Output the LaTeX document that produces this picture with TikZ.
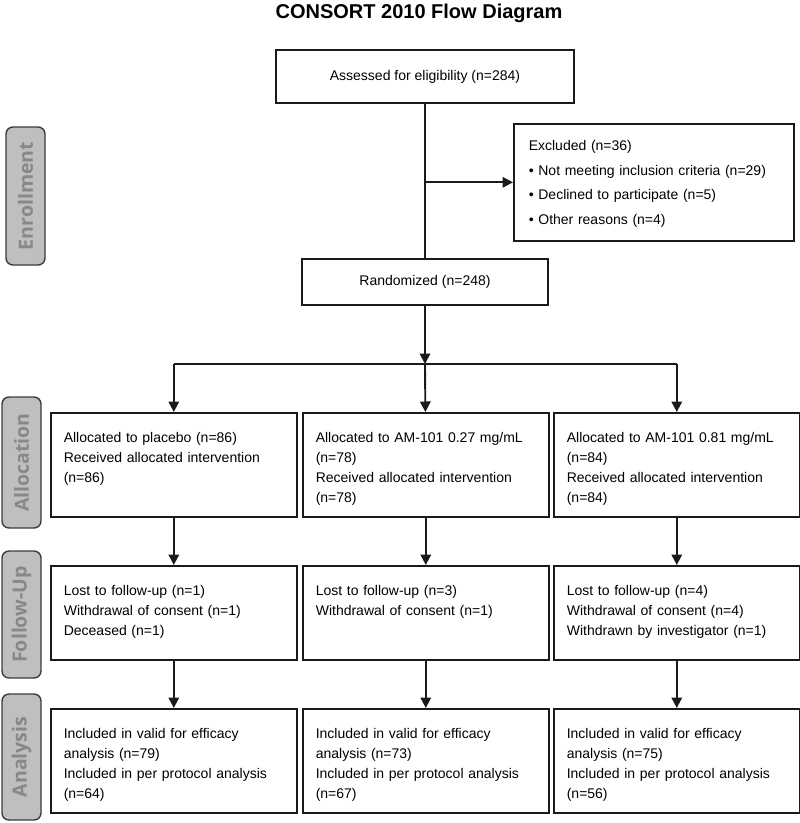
\documentclass[tikz,border=0pt]{standalone}
\usepackage{fontspec}
\setmainfont{Liberation Sans}
\newfontfamily\tabfont{Open Sans}
\usetikzlibrary{arrows.meta}

\definecolor{boxline}{HTML}{1A1A1A}
\definecolor{tabfill}{HTML}{BFBFBF}
\definecolor{tabtext}{HTML}{888888}

\tikzset{
  every node/.style={font=\fontsize{14}{19.8}\selectfont},
  box/.style={draw=boxline, line width=1.6pt},
  flowbox/.style={box, anchor=north west, text width=220pt, inner xsep=13pt,
    inner ysep=0pt, align=left, text height=30pt},
  stage/.style={draw=boxline!85, fill=tabfill, line width=1.4pt, rounded corners=7pt,
    rotate=90, minimum height=39pt, inner sep=0pt, text=tabtext,
    font=\tabfont\bfseries\fontsize{19.5}{19.5}\selectfont},
  link/.style={line width=1.9pt, draw=boxline},
  arrowline/.style={link, -{Triangle[length=10.5pt,width=10.5pt]}},
}

\begin{document}
\begin{tikzpicture}[x=1pt,y=-1pt]
  \useasboundingbox (0,0) rectangle (800,823);

  \node[anchor=base, font=\bfseries\fontsize{20}{24}\selectfont] (title) at (419,18.5) {CONSORT 2010 Flow Diagram};

  % stages
  \node[stage, minimum width=138pt] (enroll) at (25.5,196) {Enrollment};
  \node[stage, minimum width=131pt] (alloc) at (21.5,462.5) {Allocation};
  \node[stage, minimum width=127pt] (follow) at (21.5,614.5) {Follow-Up};
  \node[stage, minimum width=126pt] (analysis) at (21.5,757) {Analysis};

  % enrollment
  \node[box, minimum width=298pt, minimum height=53pt] (assess) at (425,76.5) {Assessed for eligibility (n=284)};
  \node[box, minimum width=246pt, minimum height=46pt] (random) at (425,282) {Randomized (n=248)};
  \node[flowbox, text width=250pt, inner xsep=15pt, text height=27pt, text depth=90pt,
    font=\fontsize{14}{24.5}\selectfont] (excl) at (513,123)
    {Excluded (n=36)\\\textbullet~Not meeting inclusion criteria (n=29)\\\textbullet~Declined to participate (n=5)\\\textbullet~Other reasons (n=4)};

  % allocation
  \node[flowbox, text depth=74pt] (alloc1) at (50,412) {Allocated to placebo (n=86)\\Received allocated intervention\\(n=86)};
  \node[flowbox, text depth=74pt] (alloc2) at (302,412) {Allocated to AM-101 0.27 mg/mL\\(n=78)\\Received allocated intervention\\(n=78)};
  \node[flowbox, text depth=74pt] (alloc3) at (553,412) {Allocated to AM-101 0.81 mg/mL\\(n=84)\\Received allocated intervention\\(n=84)};

  % follow-up
  \node[flowbox, text depth=64pt] (follow1) at (50,565) {Lost to follow-up (n=1)\\Withdrawal of consent (n=1)\\Deceased (n=1)};
  \node[flowbox, text depth=64pt] (follow2) at (302,565) {Lost to follow-up (n=3)\\Withdrawal of consent (n=1)};
  \node[flowbox, text depth=64pt] (follow3) at (553,565) {Lost to follow-up (n=4)\\Withdrawal of consent (n=4)\\Withdrawn by investigator (n=1)};

  % analysis
  \node[flowbox, text depth=74pt] (anal1) at (50,708) {Included in valid for efficacy\\analysis (n=79)\\Included in per protocol analysis\\(n=64)};
  \node[flowbox, text depth=74pt] (anal2) at (302,708) {Included in valid for efficacy\\analysis (n=73)\\Included in per protocol analysis\\(n=67)};
  \node[flowbox, text depth=74pt] (anal3) at (553,708) {Included in valid for efficacy\\analysis (n=75)\\Included in per protocol analysis\\(n=56)};

  \coordinate (exclsplit) at (assess.south |- excl.west);
  \coordinate (split) at (random.south |- 0,364);
  \coordinate (splitl) at (alloc1.north |- split);
  \coordinate (splitr) at (alloc3.north |- split);

  \draw[link] (assess) -- (random);
  \draw[arrowline] (exclsplit) -- (excl);
  \draw[arrowline] (random) -- (split);
  \draw[link] (splitl) -- (splitr);
  \draw[arrowline] (splitl) -- (alloc1);
  \draw[arrowline] (split) -- (alloc2);
  \draw[arrowline] (splitr) -- (alloc3);

  \foreach \i in {1,2,3} {
    \draw[arrowline] (alloc\i) -- (follow\i);
    \draw[arrowline] (follow\i) -- (anal\i);
  }
\end{tikzpicture}
\end{document}
